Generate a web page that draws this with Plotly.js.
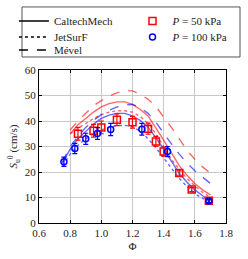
<!DOCTYPE html>
<html>
<head>
<meta charset="utf-8">
<script src="https://cdn.plot.ly/plotly-3.0.1.min.js"></script>
<style>html,body{margin:0;padding:0;background:#fff;}#chart{width:248px;height:259px;}</style>
</head>
<body>
<div id="chart"></div>
<script>
// Experimental data
const phi50 = [0.85, 0.95, 1.0, 1.1, 1.2, 1.3, 1.35, 1.4, 1.5, 1.58, 1.69];
const su50 = [35.0, 36.2, 37.5, 40.5, 39.5, 37.0, 32.0, 28.0, 19.6, 13.1, 8.7];
const err50 = [2.5, 2.5, 2.5, 2.3, 2.3, 2.2, 2.0, 1.8, 1.2, 0.8, 0.6];
const phi100 = [0.76, 0.83, 0.90, 0.975, 1.06, 1.26, 1.425, 1.69];
const su100 = [24.0, 29.2, 33.0, 35.1, 36.7, 36.8, 28.0, 8.6];
const err100 = [1.8, 2.0, 2.2, 2.3, 2.4, 2.3, 2.0, 0.6];

// Model curves
const phiM50 = [0.80, 0.85, 0.90, 0.95, 1.00, 1.05, 1.10, 1.15, 1.20, 1.25, 1.30, 1.35, 1.40, 1.45, 1.50, 1.55, 1.60, 1.65, 1.70];
const caltech50 = [35.0, 38.5, 41.0, 43.5, 45.5, 46.8, 47.5, 47.5, 46.5, 44.5, 42.0, 37.5, 32.5, 27.5, 22.5, 18.7, 15.5, 13.0, 11.0];
const jetsurf50 = [35.0, 37.2, 39.0, 41.0, 42.5, 43.5, 44.0, 44.0, 43.5, 41.8, 39.0, 35.0, 30.0, 25.0, 21.0, 17.5, 14.5, 12.0, 10.0];
const mevel50 = [36.5, 40.0, 43.0, 46.0, 48.0, 49.8, 51.0, 52.0, 51.8, 50.5, 48.5, 45.8, 41.5, 37.5, 33.0, 28.5, 25.0, 22.0, 19.5];

const phiM100 = [0.75, 0.80, 0.85, 0.90, 0.95, 1.00, 1.05, 1.10, 1.15, 1.20, 1.25, 1.30, 1.35, 1.40, 1.45, 1.50, 1.55, 1.60, 1.65, 1.70];
const caltech100 = [23.5, 29.0, 33.0, 36.0, 38.8, 41.0, 42.3, 43.0, 43.0, 42.0, 40.2, 37.5, 33.5, 29.0, 24.0, 19.5, 16.0, 13.0, 10.7, 8.8];
const jetsurf100 = [22.5, 27.0, 30.5, 33.0, 35.0, 36.5, 37.5, 38.2, 38.3, 37.8, 36.0, 33.0, 29.5, 25.5, 21.5, 17.5, 14.3, 11.5, 9.7, 8.3];
const mevel100 = [24.0, 30.0, 34.0, 37.5, 40.3, 42.5, 44.2, 45.5, 46.3, 46.5, 45.2, 43.0, 39.5, 35.0, 31.0, 27.0, 23.5, 20.5, 18.0, 15.5];

const modelNames = ['CaltechMech', 'JetSurF', 'Mével'];
const pressureNames = ['<i>P</i> = 50 kPa', '<i>P</i> = 100 kPa'];

const RED = 'rgba(255,0,0,0.6)';
const BLUE = 'rgba(0,0,255,0.6)';

function curve(x, y, color, dash) {
  return {x: x, y: y, mode: 'lines', type: 'scatter', showlegend: false,
    line: {color: color, width: 1.4, dash: dash}, hoverinfo: 'skip'};
}
function legLine(name, dash, leg) {
  return {x: [null], y: [null], mode: 'lines', type: 'scatter', name: name, legend: leg,
    line: {color: '#000', width: 1.5, dash: dash}};
}

const data = [
  curve(phiM50, caltech50, RED, 'solid'),
  curve(phiM50, jetsurf50, RED, 'dot'),
  curve(phiM50, mevel50, RED, 'dash'),
  curve(phiM100, caltech100, BLUE, 'solid'),
  curve(phiM100, jetsurf100, BLUE, 'dot'),
  curve(phiM100, mevel100, BLUE, 'dash'),
  legLine(modelNames[0], 'solid', 'legend'),
  legLine(modelNames[1], 'dot', 'legend2'),
  legLine(modelNames[2], 'dash', 'legend3'),
  {x: phi50, y: su50, type: 'scatter', mode: 'markers', name: pressureNames[0], legend: 'legend4',
    marker: {symbol: 'square-open', size: 7, color: '#ff0000', line: {width: 1.5, color: '#ff0000'}},
    error_y: {type: 'data', array: err50, visible: true, color: '#ff0000', thickness: 1.2, width: 2.5}},
  {x: phi100, y: su100, type: 'scatter', mode: 'markers', name: pressureNames[1], legend: 'legend5',
    marker: {symbol: 'circle-open', size: 6, color: '#0000ff', line: {width: 1.5, color: '#0000ff'}},
    error_y: {type: 'data', array: err100, visible: true, color: '#0000ff', thickness: 1.2, width: 2.5}}
];

const FONT = 'Liberation Serif, DejaVu Serif, serif';
function leg(x, y) {
  return {
    orientation: 'v', xanchor: 'left', yanchor: 'top', x: x, y: y,
    bgcolor: 'rgba(0,0,0,0)', borderwidth: 0,
    font: {family: FONT, size: 11, color: '#222'},
    traceorder: 'normal', itemwidth: 30
  };
}
const col1 = -0.134, col2 = 0.50;
const row1 = 1.415, row2 = 1.310, row3 = 1.2255;
const layout = {
  width: 248, height: 259,
  margin: {l: 39, r: 22, t: 70, b: 36, autoexpand: false},
  paper_bgcolor: '#fff', plot_bgcolor: '#fff',
  font: {family: FONT, size: 11, color: '#222'},
  showlegend: true,
  legend: leg(col1, row1),
  legend2: leg(col1, row2),
  legend3: leg(col1, row3),
  legend4: leg(col2, row1),
  legend5: leg(col2, row2),
  shapes: [{type: 'rect', xref: 'paper', yref: 'paper',
    x0: -0.0909, x1: 1.0749, y0: 1.085, y1: 1.412,
    line: {color: '#555', width: 1}, fillcolor: 'rgba(0,0,0,0)'}],
  xaxis: {
    range: [0.6, 1.8], dtick: 0.2, tick0: 0.6, tickformat: '.1f',
    showgrid: true, gridcolor: '#c8c8c8', gridwidth: 1,
    showline: true, linecolor: '#000', linewidth: 1, mirror: 'ticks',
    ticks: 'inside', ticklen: 3, tickcolor: '#000',
    zeroline: false,
    title: {text: 'Φ', font: {family: FONT, size: 11}, standoff: 4}
  },
  yaxis: {
    range: [0, 60], dtick: 10,
    showgrid: true, gridcolor: '#c8c8c8', gridwidth: 1,
    showline: true, linecolor: '#000', linewidth: 1, mirror: 'ticks',
    ticks: 'inside', ticklen: 3, tickcolor: '#000',
    zeroline: false,
    title: {text: '<i>S</i><sub>u</sub><sup>0</sup> (cm/s)', font: {family: FONT, size: 11}, standoff: 4}
  }
};

Plotly.newPlot('chart', data, layout, {staticPlot: true, displayModeBar: false});
</script>
</body>
</html>
